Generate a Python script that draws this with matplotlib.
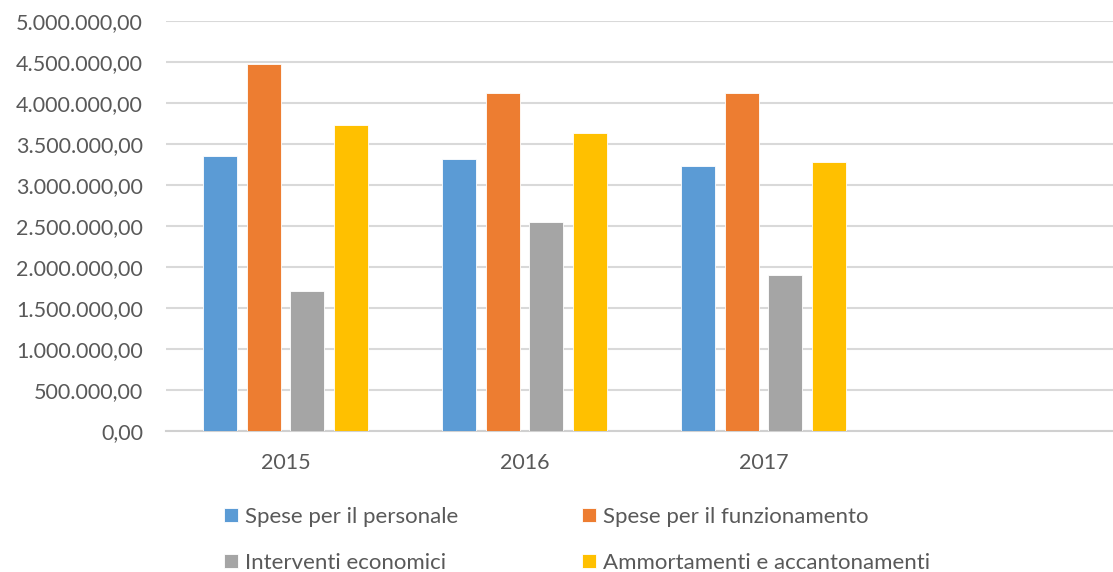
import matplotlib.pyplot as plt
import numpy as np

# data
years = ['2015', '2016', '2017', '']
personale = [3354000, 3313000, 3232000]
funzionamento = [4472000, 4122000, 4126000]
interventi = [1707000, 2545000, 1906000]
ammortamenti = [3728000, 3630000, 3277000]

series = [
    ('Spese per il personale', personale, '#5b9bd5'),
    ('Spese per il funzionamento', funzionamento, '#ed7d31'),
    ('Interventi economici', interventi, '#a5a5a5'),
    ('Ammortamenti e accantonamenti', ammortamenti, '#ffc000'),
]

plt.rcParams['font.family'] = ['Lato', 'DejaVu Sans']
text_col = '#595959'
fs_ticks = 15.5
fs_leg = 16

fig = plt.figure(figsize=(11.13, 5.72), dpi=100)
# axes runs a bit past the right edge, like the original
ax = fig.add_axes([166 / 1113, 1 - 431 / 572, (1122 - 166) / 1113, 410 / 572])

x = np.arange(len(personale))
width = 0.144
step = 0.182
bars = []
for i, (name, vals, col) in enumerate(series):
    b = ax.bar(x + (i - 1.5) * step, vals, width, color=col, label=name,
               edgecolor='white', linewidth=0.6, zorder=3)
    bars.append(b)

ax.set_xlim(-0.5, len(years) - 0.5)
ax.set_ylim(0, 5000000)
ticks = np.arange(0, 5000001, 500000)
ax.set_yticks(ticks)
ax.set_yticklabels([f'{v:,.2f}'.replace(',', 'X').replace('.', ',').replace('X', '.')
                    for v in ticks])
ax.set_xticks(np.arange(len(years)))
ax.set_xticklabels(years)

ax.grid(axis='y', color='#d9d9d9', linewidth=1.5, zorder=0)
for s in ['top', 'right', 'left']:
    ax.spines[s].set_visible(False)
ax.spines['bottom'].set_color('#d0d0d0')
ax.spines['bottom'].set_linewidth(1.5)
ax.tick_params(length=0, labelsize=fs_ticks, colors=text_col)
ax.tick_params(axis='x', pad=16)
ax.tick_params(axis='y', pad=16.5)

# legend fills row by row in the original
order = [0, 2, 1, 3]
leg = fig.legend([bars[i] for i in order], [series[i][0] for i in order],
                 loc='upper left', bbox_to_anchor=(204 / 1113, 1 - 487 / 572),
                 ncol=2, frameon=False, fontsize=fs_leg, handlelength=0.63,
                 handleheight=0.6, handletextpad=0.3, columnspacing=5.6,
                 labelspacing=1.15)
for t in leg.get_texts():
    t.set_color(text_col)

plt.savefig('out.png', dpi=100)
